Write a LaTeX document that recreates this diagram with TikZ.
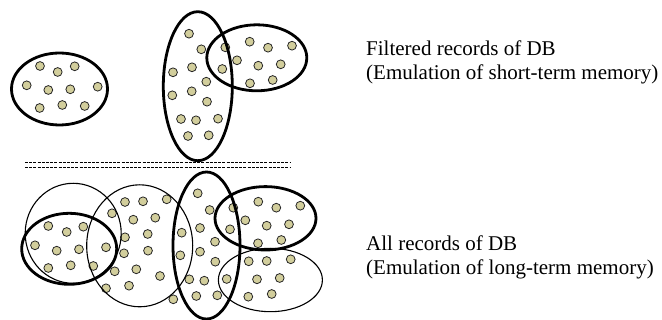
\documentclass[tikz,border=0pt]{standalone}
\usepackage{fontspec}
\setmainfont{Liberation Serif}
\begin{document}
\begin{tikzpicture}[x=1pt,y=-1pt,
  dotstyle/.style={fill=dotfill,draw=black!85,line width=0.8pt},
  thickset/.style={draw=black,line width=2.8pt},
  thinset/.style={draw=black,line width=1.1pt},
  sepline/.style={draw=black,line width=1.2pt,dash pattern=on 3pt off 1.2pt},
  lbl/.style={anchor=base west,inner sep=0pt,font=\fontsize{21}{24}\selectfont}]
\definecolor{dotfill}{RGB}{210,206,156}
\useasboundingbox (0,0) rectangle (662,320);
% ---------- top: filtered records ----------
\foreach \x/\y in {40/66,57.7/72,74.7/66.3,26.7/85.3,48.3/90,70.3/89.3,97.7/86.7,39.7/108,62.3/105,84.7/106}
  \fill[dotstyle] (\x,\y) circle[radius=4.4];
\draw[thickset] (59.5,89) ellipse[x radius=48,y radius=36];
\foreach \x/\y in {189/33.7,201.3/49.3,225.3/47.3,173/72.3,192/67.3,222.3/69,206.3/81.7,172.3/95.3,191.7/91.3,207/101.7,181/119,196/120.3,218/118.7,188/136,208.7/135.3,
  237/60.3,249.7/41.7,268/47.7,292/45.7,258.3/65.7,280.7/64.3,250/83.3,272.7/80}
  \fill[dotstyle] (\x,\y) circle[radius=4.4];
\draw[thickset] (197.8,86.2) ellipse[x radius=34.5,y radius=74.5];
\draw[thickset] (256.8,57.8) ellipse[x radius=50,y radius=33];
% ---------- separator ----------
\coordinate (s1a) at (25,162.5); \coordinate (s1b) at (290,162.5);
\coordinate (s2a) at (25,167.2); \coordinate (s2b) at (290,167.2);
\draw[sepline] (s1a) -- (s1b);
\draw[sepline] (s2a) -- (s2b);
% ---------- bottom: all records ----------
\foreach \x/\y in {48.3/226,66.7/232,83.3/226.7,35/245.3,56.7/250.7,79/249.3,106/247.3,48.3/268,70.7/265.3,93.3/266,
  112/213.3,125/202,143/201.3,166.7/199.3,133.3/219.7,155.3/217.7,125/237.3,147.7/234,124/253.3,148/250.7,114.7/271.3,136.3/269.3,160/276,106/288.3,129/285.7,173.3/299.3,
  197.7/193.3,209.7/210,233.3/207.7,181.7/232.7,200/228,230/229.3,215/241.7,180.3/255.3,200/251.7,215.3/261.7,189.3/279.3,204.3/280.7,226.7/279,196.3/296,217.3/295.3,
  245.3/220.3,258.3/201.7,276.3/207.7,300.3/205.7,266.7/225.7,289/224.3,258/243.3,281.3/240,
  248.7/261.3,266.7/261,290.7/259.3,257/279.3,279.7/278,248.3/296.7,271.7/294}
  \fill[dotstyle] (\x,\y) circle[radius=4.4];
\draw[thinset] (73.2,233.3) ellipse[x radius=48,y radius=50];
\draw[thinset] (139.7,245.8) ellipse[x radius=53,y radius=61];
\draw[thinset] (270.4,280) ellipse[x radius=52,y radius=31.7];
\draw[thickset] (69.2,248.8) ellipse[x radius=47.5,y radius=35.5];
\draw[thickset] (206.5,245.5) ellipse[x radius=33.5,y radius=73.5];
\draw[thickset] (265.5,218.3) ellipse[x radius=50.5,y radius=31.7];
% ---------- labels ----------
\node[lbl] (t1) at (366,56) {Filtered records of DB};
\node[lbl] (t2) at (366,80) {(Emulation of short-term memory)};
\node[lbl] (t3) at (366,251) {All records of DB};
\node[lbl] (t4) at (366,275) {(Emulation of long-term memory)};
\end{tikzpicture}
\end{document}
